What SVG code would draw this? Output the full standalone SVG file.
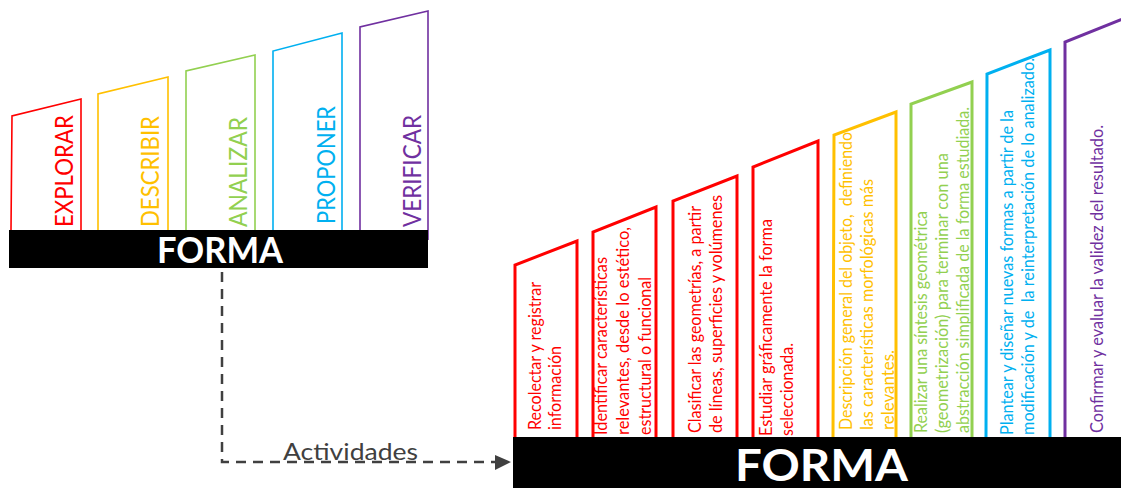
<svg xmlns="http://www.w3.org/2000/svg" width="1121" height="488" viewBox="0 0 1121 488">
<style>
.t{font-family:Lato,"Open Sans","Liberation Sans",sans-serif;}
.big{font-family:Lato,"Open Sans","Liberation Sans",sans-serif;font-weight:bold;fill:#fff;}
.lw{font-size:25px;}
.rt{font-size:16.5px;}
.cl{fill:none;stroke-width:1.6;stroke-linejoin:miter;}
.cr{fill:none;stroke-width:3;stroke-linejoin:miter;}
.red{stroke:#FF0000;} .yel{stroke:#FFC000;} .grn{stroke:#92D050;} .blu{stroke:#00B0F0;} .pur{stroke:#7030A0;}
.fr{fill:#FF0000;} .fy{fill:#FFC000;} .fg{fill:#92D050;} .fb{fill:#00B0F0;} .fp{fill:#7030A0;}
</style>
<rect width="1121" height="488" fill="#fff"/>

<g id="left-diagram">
  <g id="l-explorar">
    <polyline class="cl red" points="11,230 12,116 81,99 81,230"/>
    <text class="t lw fr" transform="translate(73,227) rotate(-90)" textLength="112" lengthAdjust="spacingAndGlyphs">EXPLORAR</text>
  </g>
  <g id="l-describir">
    <polyline class="cl yel" points="98,230 98,94 168,77 168,230"/>
    <text class="t lw fy" transform="translate(159,227) rotate(-90)" textLength="111" lengthAdjust="spacingAndGlyphs">DESCRIBIR</text>
  </g>
  <g id="l-analizar">
    <polyline class="cl grn" points="186,230 186,71 255,55 255,230"/>
    <text class="t lw fg" transform="translate(247,227) rotate(-90)" textLength="110" lengthAdjust="spacingAndGlyphs">ANALIZAR</text>
  </g>
  <g id="l-proponer">
    <polyline class="cl blu" points="273,230 273,51 342,33 342,230"/>
    <text class="t lw fb" transform="translate(335,224) rotate(-90)" textLength="118" lengthAdjust="spacingAndGlyphs">PROPONER</text>
  </g>
  <g id="l-verificar">
    <polyline class="cl pur" points="360,230 360,27 428,11 428,240"/>
    <text class="t lw fp" transform="translate(421,227) rotate(-90)" textLength="112" lengthAdjust="spacingAndGlyphs">VERIFICAR</text>
  </g>
  <g id="l-forma">
    <rect x="9" y="230" width="419" height="38" fill="#000"/>
    <text class="big" x="157" y="263" font-size="36" textLength="126" lengthAdjust="spacingAndGlyphs">FORMA</text>
  </g>
</g>

<g id="connectors">
  <path d="M222,272 V462 H497" fill="none" stroke="#404040" stroke-width="2.5" stroke-dasharray="10 7"/>
  <polygon points="495,455 511,462 495,470" fill="#404040"/>
  <text class="t" x="283" y="460" font-size="24" fill="#404040" textLength="135" lengthAdjust="spacingAndGlyphs">Actividades</text>
</g>

<g id="right-diagram">
  <g id="r-col1">
    <polyline class="cr red" points="515,437 515,265 577,241 577,437"/>
    <text class="t rt fr" transform="translate(541,430) rotate(-90)" textLength="148" lengthAdjust="spacingAndGlyphs">Recolectar y registrar</text>
    <text class="t rt fr" transform="translate(561,430) rotate(-90)" textLength="84" lengthAdjust="spacingAndGlyphs">información</text>
  </g>
  <g id="r-col2">
    <polyline class="cr red" points="593,437 593,232 656,207 656,437"/>
    <text class="t rt fr" transform="translate(607,435) rotate(-90)" textLength="178" lengthAdjust="spacingAndGlyphs">Identificar características</text>
    <text class="t rt fr" transform="translate(629,435) rotate(-90)" textLength="208" lengthAdjust="spacingAndGlyphs">relevantes, desde lo estético,</text>
    <text class="t rt fr" transform="translate(651,435) rotate(-90)" textLength="158" lengthAdjust="spacingAndGlyphs">estructural o funcional</text>
  </g>
  <g id="r-col3">
    <polyline class="cr red" points="673,437 673,201 737,176 737,437"/>
    <text class="t rt fr" transform="translate(701,433) rotate(-90)" textLength="227" lengthAdjust="spacingAndGlyphs">Clasificar las geometrías, a partir</text>
    <text class="t rt fr" transform="translate(722,433) rotate(-90)" textLength="238" lengthAdjust="spacingAndGlyphs">de líneas, superficies y volúmenes</text>
  </g>
  <g id="r-col4">
    <polyline class="cr red" points="753,437 753,167 818,141 818,437"/>
    <text class="t rt fr" transform="translate(772,436) rotate(-90)" textLength="217" lengthAdjust="spacingAndGlyphs">Estudiar gráficamente la forma</text>
    <text class="t rt fr" transform="translate(793,436) rotate(-90)" textLength="93" lengthAdjust="spacingAndGlyphs">seleccionada.</text>
  </g>
  <g id="r-col5">
    <polyline class="cr yel" points="833,437 834,135 896,112 896,437"/>
    <text class="t rt fy" xml:space="preserve" transform="translate(852,430) rotate(-90)" textLength="298" lengthAdjust="spacingAndGlyphs">Descripción general del objeto,  definiendo</text>
    <text class="t rt fy" transform="translate(873,430) rotate(-90)" textLength="251" lengthAdjust="spacingAndGlyphs">las características morfológicas más</text>
    <text class="t rt fy" transform="translate(894,430) rotate(-90)" textLength="80" lengthAdjust="spacingAndGlyphs">relevantes.</text>
  </g>
  <g id="r-col6">
    <polyline class="cr grn" points="911,437 911,104 972,82 972,437"/>
    <text class="t rt fg" transform="translate(927,433) rotate(-90)" textLength="222" lengthAdjust="spacingAndGlyphs">Realizar una síntesis geométrica</text>
    <text class="t rt fg" transform="translate(948,433) rotate(-90)" textLength="280" lengthAdjust="spacingAndGlyphs">(geometrización) para terminar con una</text>
    <text class="t rt fg" transform="translate(969,433) rotate(-90)" textLength="326" lengthAdjust="spacingAndGlyphs">abstracción simplificada de la forma estudiada.</text>
  </g>
  <g id="r-col7">
    <polyline class="cr blu" points="986,437 987,74 1050,50 1050,437"/>
    <text class="t rt fb" transform="translate(1013,435) rotate(-90)" textLength="325" lengthAdjust="spacingAndGlyphs">Plantear y diseñar nuevas formas a partir de la</text>
    <text class="t rt fb" xml:space="preserve" transform="translate(1034,435) rotate(-90)" textLength="377" lengthAdjust="spacingAndGlyphs">modificación y de  la reinterpretación de lo analizado.</text>
  </g>
  <g id="r-col8">
    <polyline class="cr pur" points="1065,437 1065,42 1130,16"/>
    <text class="t rt fp" transform="translate(1103,433) rotate(-90)" textLength="308" lengthAdjust="spacingAndGlyphs">Confirmar y evaluar la validez del resultado.</text>
  </g>
  <g id="r-forma">
    <rect x="513" y="437" width="608" height="51" fill="#000"/>
    <text class="big" x="735" y="481" font-size="44" textLength="173" lengthAdjust="spacingAndGlyphs">FORMA</text>
  </g>
</g>
</svg>
